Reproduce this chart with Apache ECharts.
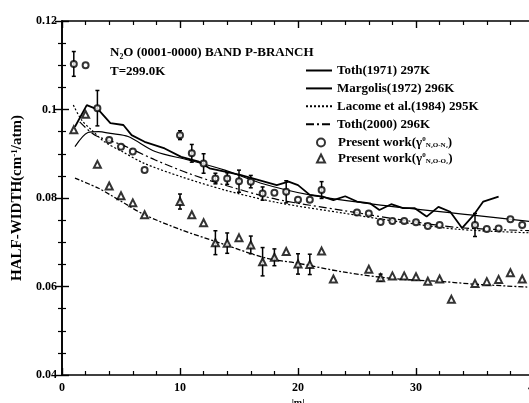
<!DOCTYPE html>
<html>
<head>
<meta charset="utf-8">
<script src="https://cdn.jsdelivr.net/npm/echarts@6/dist/echarts.min.js"></script>
<style>
  html, body { margin: 0; padding: 0; background: #fff; }
  #main { width: 529px; height: 403px; }
</style>
</head>
<body>
<div id="main"></div>
<script type="text/javascript">
    // measured points, |m| vs half-width (cm-1/atm)
    var mCirc = [1, 2, 3, 4, 5, 6, 7, 10, 11, 12, 13, 14, 15, 16, 17, 18, 19, 20, 21, 22, 25, 26, 27, 28, 29, 30, 31, 32, 35, 36, 37, 38, 39];
    var gCirc = [0.1103, 0.1100, 0.1003, 0.0931, 0.0916, 0.0905, 0.0863, 0.0942, 0.0901, 0.0878, 0.0844, 0.0844, 0.0838, 0.0837, 0.0810, 0.0812, 0.0814, 0.0796, 0.0796, 0.0818, 0.0767, 0.0765, 0.0746, 0.0748, 0.0748, 0.0745, 0.0737, 0.0739, 0.0739, 0.0730, 0.0731, 0.0752, 0.0739];
    var eCirc = [0.0028, 0, 0.0040, 0, 0, 0, 0, 0.0010, 0.0020, 0.0022, 0.0012, 0.0013, 0.0025, 0.0014, 0.0015, 0, 0.0025, 0, 0, 0.0019, 0, 0, 0, 0, 0, 0, 0, 0, 0.0026, 0, 0, 0, 0];

    var mTri = [1, 2, 3, 4, 5, 6, 7, 10, 11, 12, 13, 14, 15, 16, 17, 18, 19, 20, 21, 22, 23, 26, 27, 28, 29, 30, 31, 32, 33, 35, 36, 37, 38, 39];
    var gTri = [0.0954, 0.0989, 0.0876, 0.0827, 0.0805, 0.0789, 0.0762, 0.0792, 0.0762, 0.0744, 0.0699, 0.0698, 0.0710, 0.0694, 0.0656, 0.0666, 0.0679, 0.0651, 0.0650, 0.0680, 0.0617, 0.0639, 0.0620, 0.0624, 0.0624, 0.0622, 0.0612, 0.0617, 0.0571, 0.0607, 0.0611, 0.0616, 0.0631, 0.0617];
    var eTri = [0, 0, 0, 0, 0, 0, 0, 0.0017, 0, 0, 0.0027, 0.0023, 0, 0.0020, 0.0032, 0.0019, 0, 0.0023, 0.0023, 0, 0, 0, 0.0008, 0, 0, 0, 0, 0, 0, 0, 0, 0, 0, 0];

    // previous work curves
    var mToth71 = [1.1, 2.1, 3.1, 4.1, 5.2, 5.9, 7.0, 8.7, 10.1, 11.6, 12.5, 15.1, 18.2, 19.2, 20.0, 21.0, 22.1, 23.0, 24.0, 25.0, 26.1, 26.9, 27.9, 28.9, 29.9, 30.9, 31.9, 32.9, 33.9, 34.9, 35.7, 37.0];
    var gToth71 = [0.0961, 0.1010, 0.0999, 0.0969, 0.0965, 0.0942, 0.0927, 0.0912, 0.0893, 0.0882, 0.0867, 0.0852, 0.0829, 0.0837, 0.0829, 0.0807, 0.0803, 0.0795, 0.0804, 0.0792, 0.0788, 0.0773, 0.0786, 0.0777, 0.0777, 0.0758, 0.0780, 0.0769, 0.0732, 0.0762, 0.0792, 0.0803];

    var mMarg = [1.1, 2.2, 3.1, 4.1, 5.6, 7.9, 10.7, 13.8, 16.8, 21.0, 27.0, 34.6, 40.0];
    var gMarg = [0.0916, 0.0948, 0.0950, 0.0946, 0.0939, 0.0905, 0.0886, 0.0863, 0.0834, 0.0807, 0.0784, 0.0762, 0.0746];

    var mLacome = [0.96, 1.67, 2.5, 3.6, 5.1, 7.0, 10.1, 13.8, 18.2, 23.8, 28.9, 33.7, 40.0];
    var gLacome = [0.1010, 0.0976, 0.0954, 0.0927, 0.0905, 0.0878, 0.0848, 0.0818, 0.0790, 0.0766, 0.0745, 0.0729, 0.0721];

    var mToth00 = [1.5, 2.8, 5.1, 7.9, 10.7, 13.8, 18.2, 23.8, 28.9, 33.7, 40.0];
    var gToth00 = [0.0972, 0.0942, 0.0920, 0.0886, 0.0856, 0.0829, 0.0797, 0.0772, 0.0750, 0.0733, 0.0726];

    var mLow = [1.1, 3.1, 4.1, 5.3, 7.0, 10.1, 13.1, 17.3, 19.9, 23.8, 28.0, 32.3, 35.1, 40.0];
    var gLow = [0.0845, 0.0822, 0.0807, 0.0788, 0.0762, 0.0728, 0.0701, 0.0664, 0.0653, 0.0633, 0.0618, 0.0611, 0.0605, 0.0598];

    var lineNames = ['Toth(1971) 297K', 'Margolis(1972) 296K', 'Lacome et al.(1984) 295K', 'Toth(2000) 296K'];
    var pointNames = ['circ', 'tri'];

    var font = '"Liberation Serif", "DejaVu Serif", serif';

    function pairs(xs, ys) {
        return xs.map(function (x, i) { return [x, ys[i]]; });
    }
    function bars(xs, ys, es) {
        var out = [];
        xs.forEach(function (x, i) {
            if (es[i] > 0) out.push([x, ys[i] - es[i], ys[i] + es[i]]);
        });
        return out;
    }
    function renderBar(params, api) {
        var lo = api.coord([api.value(0), api.value(1)]);
        var hi = api.coord([api.value(0), api.value(2)]);
        var st = { stroke: '#000', lineWidth: 1.5 };
        return {
            type: 'group',
            children: [
                { type: 'line', shape: { x1: lo[0], y1: lo[1], x2: hi[0], y2: hi[1] }, style: st },
                { type: 'line', shape: { x1: lo[0] - 2, y1: lo[1], x2: lo[0] + 2, y2: lo[1] }, style: st },
                { type: 'line', shape: { x1: hi[0] - 2, y1: hi[1], x2: hi[0] + 2, y2: hi[1] }, style: st }
            ]
        };
    }

    var axisCommon = {
        type: 'value',
        axisLine: { show: true, lineStyle: { color: '#000', width: 1.6 } },
        axisTick: { show: true, inside: true, length: 7, lineStyle: { color: '#000', width: 1.4 } },
        minorTick: { show: true, length: 4, lineStyle: { color: '#000', width: 1.2 } },
        splitLine: { show: false }
    };
    var labelStyle = { color: '#000', fontFamily: font, fontWeight: 'bold', fontSize: 12 };
    var legendText = {
        color: '#000', fontFamily: font, fontWeight: 'bold', fontSize: 13,
        rich: {
            s: { fontFamily: font, fontWeight: 'bold', fontSize: 7, verticalAlign: 'top', color: '#000' },
            b: { fontFamily: font, fontWeight: 'bold', fontSize: 7, verticalAlign: 'bottom', color: '#000' }
        }
    };
    function legendLabel(name) {
        if (name === 'circ') return 'Present work(γ{s|0}{b|N₂O-N₂})';
        if (name === 'tri') return 'Present work(γ{s|0}{b|N₂O-O₂})';
        return name;
    }

    var myChart = echarts.init(document.getElementById('main'));
    myChart.setOption({
        backgroundColor: '#fff',
        animation: false,
        grid: { left: 62, right: -5, top: 21, bottom: 28, outerBoundsMode: 'none' },
        xAxis: [
            Object.assign({}, axisCommon, {
                position: 'bottom', min: 0, max: 40, interval: 10,
                minorTick: Object.assign({}, axisCommon.minorTick, { splitNumber: 5 }),
                axisLabel: Object.assign({ margin: 7 }, labelStyle),
                name: '|m|', nameLocation: 'middle', nameGap: 22,
                nameTextStyle: Object.assign({}, labelStyle, { fontSize: 10 })
            }),
            Object.assign({}, axisCommon, {
                position: 'top', min: 0, max: 40, interval: 10,
                minorTick: Object.assign({}, axisCommon.minorTick, { splitNumber: 5 }),
                axisLabel: { show: false }
            })
        ],
        yAxis: [
            Object.assign({}, axisCommon, {
                position: 'left', min: 0.04, max: 0.12, interval: 0.02,
                minorTick: Object.assign({}, axisCommon.minorTick, { splitNumber: 4 }),
                axisLabel: Object.assign({ margin: 5 }, labelStyle),
                name: 'HALF-WIDTH(cm{sup|-1}/atm)', nameLocation: 'middle', nameGap: 35,
                nameTextStyle: {
                    color: '#000', fontFamily: font, fontWeight: 'bold', fontSize: 15,
                    rich: { sup: { fontFamily: font, fontWeight: 'bold', fontSize: 9, verticalAlign: 'top', color: '#000' } }
                }
            }),
            Object.assign({}, axisCommon, {
                position: 'right', min: 0.04, max: 0.12, interval: 0.02,
                minorTick: Object.assign({}, axisCommon.minorTick, { splitNumber: 4 }),
                axisLabel: { show: false }
            })
        ],
        legend: [
            {
                data: lineNames, orient: 'vertical', left: 300, top: 59,
                itemWidth: 26, itemHeight: 10, itemGap: 4.9,
                itemStyle: { opacity: 0 },
                formatter: legendLabel, textStyle: legendText
            },
            {
                data: pointNames, orient: 'vertical', left: 311, top: 131,
                itemWidth: 8, itemHeight: 8, itemGap: 3,
                itemStyle: { borderWidth: 1.8, borderColor: '#000' },
                formatter: legendLabel, textStyle: Object.assign({ padding: [0, 0, 0, 8] }, legendText)
            }
        ],
        graphic: [
            { type: 'text', left: 110, top: 46, style: { text: 'N₂O (0001-0000) BAND P-BRANCH', fill: '#000', font: 'bold 13px ' + font } },
            { type: 'text', left: 110, top: 65, style: { text: 'T=299.0K', fill: '#000', font: 'bold 13px ' + font } }
        ],
        series: [
            { name: 'Toth(1971) 297K', type: 'line', symbol: 'none', data: pairs(mToth71, gToth71),
              lineStyle: { color: '#000', width: 1.8 }, itemStyle: { color: '#000' } },
            { name: 'Margolis(1972) 296K', type: 'line', symbol: 'none', smooth: 0.3, data: pairs(mMarg, gMarg),
              lineStyle: { color: '#000', width: 1.2 }, itemStyle: { color: '#000' } },
            { name: 'Lacome et al.(1984) 295K', type: 'line', symbol: 'none', smooth: 0.3, data: pairs(mLacome, gLacome),
              lineStyle: { color: '#000', width: 1.2, type: [2, 2] }, itemStyle: { color: '#000' } },
            { name: 'Toth(2000) 296K', type: 'line', symbol: 'none', smooth: 0.3, data: pairs(mToth00, gToth00),
              lineStyle: { color: '#000', width: 1.2, type: [8, 3, 2, 3] }, itemStyle: { color: '#000' } },
            { name: 'fit O2', type: 'line', symbol: 'none', smooth: 0.3, data: pairs(mLow, gLow),
              lineStyle: { color: '#000', width: 1.3, type: [5, 2, 2, 2] }, itemStyle: { color: '#000' } },
            { name: 'errC', type: 'custom', renderItem: renderBar, data: bars(mCirc, gCirc, eCirc), z: 3 },
            { name: 'errT', type: 'custom', renderItem: renderBar, data: bars(mTri, gTri, eTri), z: 3 },
            { name: 'circ', type: 'scatter', symbol: 'emptyCircle', symbolSize: 6, data: pairs(mCirc, gCirc), z: 4,
              itemStyle: { color: '#000', borderColor: '#000', borderWidth: 1.8 } },
            { name: 'tri', type: 'scatter', symbol: 'emptyTriangle', symbolSize: 7, data: pairs(mTri, gTri), z: 4,
              itemStyle: { color: '#000', borderColor: '#000', borderWidth: 1.8 } }
        ]
    });
</script>
</body>
</html>
